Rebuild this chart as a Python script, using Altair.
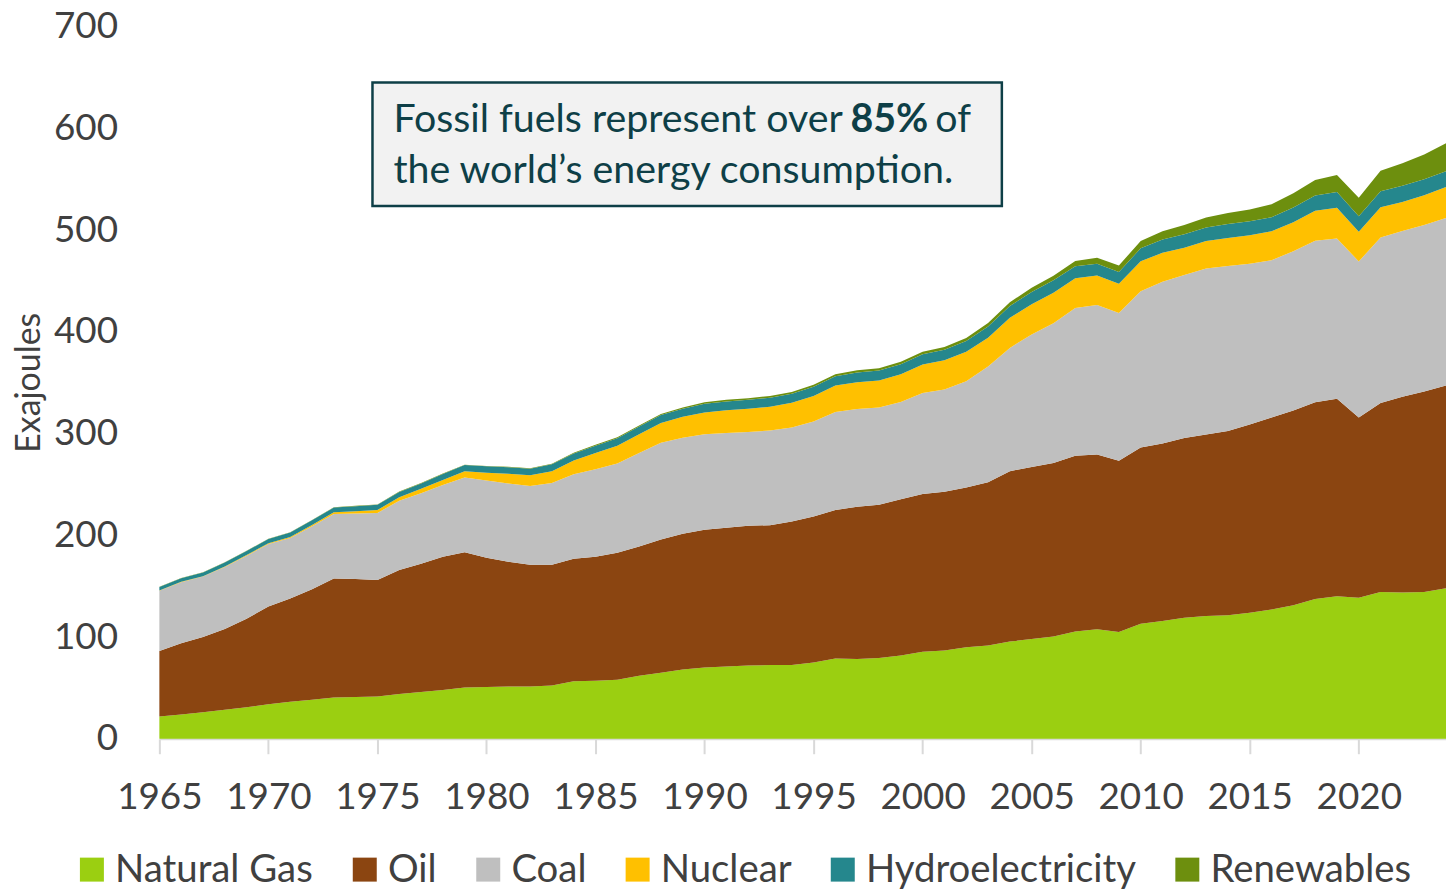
import altair as alt
import pandas as pd

years = list(range(1965, 2025))

natural_gas = [22, 24, 26, 28.5, 31, 34, 36.5, 38.5, 40.5, 41,
               41.5, 44, 46, 48, 50.5, 51, 51.5, 51.5, 52.5, 56.5,
               57, 58, 62, 65, 68, 70, 71, 72, 72.5, 72.5,
               75, 79, 78.5, 79.5, 82, 85.5, 86.7, 90, 91.6, 95.6,
               98, 100.5, 105.4, 107.7, 104.9, 113, 115.8, 119, 120.7, 121.5,
               124, 127.2, 131.3, 137.4, 140.2, 138.6, 144.3, 143.8, 144.3, 148]

oil = [64.4, 70, 74, 79.5, 87, 96, 101.5, 108.5, 117, 116,
       114.5, 122, 126, 131, 133, 127, 122.5, 119.5, 118.5, 120.5,
       122, 125, 127, 131, 133.6, 135.5, 136.4, 137.4, 137.5, 141.1,
       143.5, 146, 149.5, 150.5, 153.5, 155.2, 156.2, 157, 160.6, 167.5,
       169.2, 170.7, 172.8, 171.7, 168.4, 173.3, 174.5, 176.6, 178.5, 181,
       185, 188.7, 191.5, 193.5, 194, 177.3, 185.8, 192.4, 197.2, 199.2]

coal = [59.1, 60, 59.5, 61, 62, 61.5, 59.5, 62, 63.5, 64.5,
        66, 68, 69.5, 70.5, 73.4, 76, 77, 77.5, 80.5, 83,
        86, 87.7, 92, 95, 94.4, 93.9, 93.3, 92.3, 93, 92.4,
        93.5, 96.2, 96.3, 95.8, 95.5, 99.3, 100.6, 104.6, 113.8, 121.2,
        130.3, 137.3, 145.3, 147, 145.4, 153.7, 159.1, 160.4, 163.1, 162.3,
        158, 154.6, 156.5, 158.8, 157.7, 153.4, 162.7, 163.1, 163.5, 164.8]

nuclear = [0.2, 0.3, 0.4, 0.5, 0.6, 0.8, 1.0, 1.3, 1.7, 2.2,
           3.0, 3.5, 4.2, 5.0, 6.0, 7.6, 9.5, 10.5, 11.5, 13.5,
           16, 17.5, 18.5, 19.5, 20.5, 21.5, 22.3, 22.8, 23.5, 24.3,
           25, 26, 26.2, 26.5, 27.3, 28, 28.7, 28.9, 28.3, 29.6,
           29.7, 29.9, 29.3, 29.1, 28.7, 29.4, 28.4, 26.7, 27, 27.6,
           28, 28.4, 28.6, 29.3, 30.1, 29.1, 29.7, 28.4, 29.3, 30.4]

hydro = [3.5, 3.6, 3.7, 3.8, 4.0, 4.1, 4.3, 4.5, 4.6, 5.0,
         5.0, 5.2, 5.4, 5.8, 6.2, 6.3, 6.4, 6.5, 6.8, 7.0,
         7.2, 7.3, 7.5, 7.8, 8.0, 8.5, 8.7, 8.8, 8.8, 8.9,
         9.2, 9.3, 9.6, 9.7, 9.9, 10.0, 10.2, 10.5, 11.0, 11.5,
         12.0, 12.3, 11.8, 11.6, 11.6, 12.8, 13.0, 13.2, 13.3, 13.8,
         13.7, 13.8, 14.3, 15.0, 15.5, 15.3, 15.7, 16.0, 15.8, 15.6]

renewables = [0.2, 0.2, 0.2, 0.2, 0.2, 0.3, 0.3, 0.3, 0.3, 0.3,
              0.3, 0.4, 0.4, 0.4, 0.4, 0.4, 0.5, 0.5, 0.6, 0.7,
              0.8, 0.9, 1.0, 1.1, 1.3, 1.4, 1.5, 1.6, 1.7, 1.8,
              1.9, 2.0, 2.2, 2.3, 2.4, 2.6, 2.8, 3.1, 3.4, 3.8,
              4.2, 4.6, 5.1, 5.8, 6.3, 7.2, 8.2, 9.1, 10.0, 10.8,
              11.7, 12.8, 14.1, 15.4, 16.8, 18.3, 20.3, 22.1, 24.2, 27.6]

sources = ["Natural Gas", "Oil", "Coal", "Nuclear", "Hydroelectricity", "Renewables"]
colors = ["#9BCF11", "#8B4511", "#BFBFBF", "#FFC000", "#25878D", "#6D8F0E"]
series = [natural_gas, oil, coal, nuclear, hydro, renewables]

x_ticks = list(range(1965, 2021, 5))
y_ticks = list(range(0, 701, 100))

rows = []
for i, (name, vals) in enumerate(zip(sources, series)):
    for yr, v in zip(years, vals):
        rows.append({"year": yr, "source": name, "value": v, "idx": i})
df = pd.DataFrame(rows)

FONT = "Lato"
TXT = "#404040"
BOX_TXT = "#0E3F47"
BOX_FS = 39.5

area = alt.Chart(df).mark_area(interpolate="linear", opacity=1).encode(
    x=alt.X("year:Q",
            scale=alt.Scale(domain=[1965, 2024], nice=False, zero=False),
            axis=alt.Axis(values=x_ticks, format="d", title=None, grid=False,
                          domainColor="#D9D9D9", domainWidth=2,
                          tickColor="#D9D9D9", tickWidth=2, tickSize=15,
                          labelFontSize=37, labelColor=TXT, labelFont=FONT,
                          labelPadding=26, labelFlush=False)),
    y=alt.Y("value:Q", stack="zero",
            scale=alt.Scale(domain=[0, 700], nice=False),
            axis=alt.Axis(values=y_ticks, title="Exajoules", grid=False,
                          domain=False, ticks=False, tickSize=0,
                          labelFontSize=37, labelColor=TXT, labelFont=FONT,
                          labelPadding=42,
                          titleFontSize=34, titleColor=TXT, titleFont=FONT,
                          titleFontWeight="normal",
                          titleX=-130, titleY=357, titleAngle=270,
                          titleAlign="center", titleBaseline="middle")),
    color=alt.Color("source:N",
                    scale=alt.Scale(domain=sources, range=colors),
                    legend=alt.Legend(title=None, orient="none",
                                      direction="horizontal", columns=6,
                                      legendX=-87, legendY=827,
                                      symbolType="square", symbolSize=580,
                                      symbolStrokeWidth=0, symbolOpacity=1,
                                      labelFontSize=38.5, labelColor=TXT,
                                      labelFont=FONT, labelOffset=4,
                                      labelLimit=600,
                                      columnPadding=32, padding=0)),
    order=alt.Order("idx:Q", sort="ascending"),
)

box = alt.Chart(pd.DataFrame({"k": [0]})).mark_rect(
    fill="#F2F2F2", stroke=BOX_TXT, strokeWidth=2.5
).encode(x=alt.value(214), x2=alt.value(846), y=alt.value(56), y2=alt.value(180))

line1a = alt.Chart(pd.DataFrame({"t": ["Fossil fuels represent over"]})).mark_text(
    align="left", baseline="alphabetic", font=FONT, fontSize=BOX_FS, color=BOX_TXT
).encode(text="t:N", x=alt.value(235), y=alt.value(106))

line1b = alt.Chart(pd.DataFrame({"t": ["85%"]})).mark_text(
    align="center", baseline="alphabetic", font=FONT, fontSize=BOX_FS,
    fontWeight="bold", color=BOX_TXT
).encode(text="t:N", x=alt.value(733), y=alt.value(106))

line1c = alt.Chart(pd.DataFrame({"t": ["of"]})).mark_text(
    align="right", baseline="alphabetic", font=FONT, fontSize=BOX_FS, color=BOX_TXT
).encode(text="t:N", x=alt.value(815), y=alt.value(106))

line2 = alt.Chart(pd.DataFrame({"t": ["the world\u2019s energy consumption."]})).mark_text(
    align="left", baseline="alphabetic", font=FONT, fontSize=BOX_FS, color=BOX_TXT
).encode(text="t:N", x=alt.value(235), y=alt.value(157))

chart = alt.layer(area, box, line1a, line1b, line1c, line2).properties(
    width=1292, height=715,
    autosize=alt.AutoSizeParams(type="none"),
    padding={"left": 152, "top": 17, "right": 0, "bottom": 150},
).configure(font=FONT).configure_view(strokeWidth=0, stroke="transparent")

chart.save("out.html", embed_options={"renderer": "svg", "actions": False})
